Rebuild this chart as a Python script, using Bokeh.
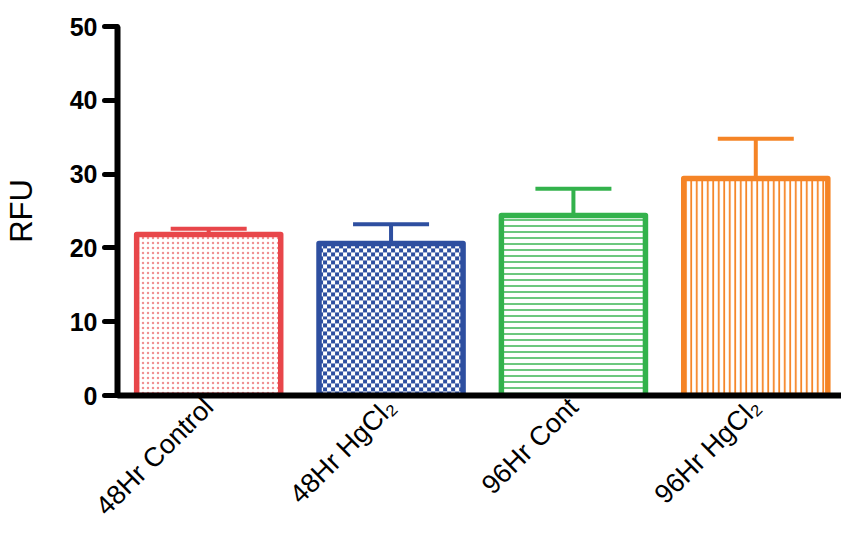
import numpy as np

from bokeh.embed import file_html
from bokeh.models import (
    ColumnDataSource,
    FixedTicker,
    Range1d,
    TeeHead,
    Whisker,
)
from bokeh.plotting import figure
from bokeh.resources import INLINE

# data
groups = ["48Hr Control", "48Hr HgCl\u2082", "96Hr Cont", "96Hr HgCl\u2082"]
rfu = [21.8, 20.6, 24.4, 29.4]
sem = [0.8, 2.6, 3.6, 5.4]

# looks
colors = ["#E8464A", "#2E4FA0", "#33B24C", "#F58426"]
patterns = ["dot", "checker", "-", "|"]
hatch_scales = [5, 8, 6, 5.5]
hatch_weights = [1.2, 1, 1.6, 1.8]
hatch_alphas = [0.6, 1.0, 0.9, 1.0]

W, H = 841, 534
BORDER_L, BORDER_T, BORDER_B = 117, 26, 137
X0, X1 = -0.5, 3.47
YMAX = 50
BAR_W = 0.79

xs = list(range(len(groups)))

# screen pixels per data unit, used to size the checker tile image
px_x = (W - BORDER_L) / (X1 - X0)
px_y = (H - BORDER_T - BORDER_B) / YMAX


def checker_img(w_units, h_units, color, cell=4):
    nx = int(round(w_units * px_x))
    ny = int(round(h_units * px_y))
    rgb = [int(color[k:k + 2], 16) for k in (1, 3, 5)]
    yy, xx = np.mgrid[0:ny, 0:nx]
    on = ((yy // cell + xx // cell) % 2) == 0
    img = np.zeros((ny, nx), dtype=np.uint32)
    view = img.view(dtype=np.uint8).reshape((ny, nx, 4))
    for c in range(3):
        view[..., c] = np.where(on, rgb[c], 255)
    view[..., 3] = 255
    return img


p = figure(
    width=W, height=H,
    x_range=Range1d(X0, X1), y_range=Range1d(0, YMAX),
    output_backend="svg", toolbar_location=None,
    min_border_left=BORDER_L, min_border_right=0,
    min_border_top=BORDER_T, min_border_bottom=BORDER_B,
)
p.outline_line_color = None
p.grid.grid_line_color = None

for i in xs:
    src = ColumnDataSource(dict(x=[i], top=[rfu[i]], upper=[rfu[i] + sem[i]]))
    p.add_layout(Whisker(
        base="x", lower="top", upper="upper", source=src,
        line_color=colors[i], line_width=4,
        upper_head=TeeHead(size=76, line_color=colors[i], line_width=4),
        lower_head=None, level="underlay",
    ))
    if patterns[i] == "checker":
        p.image_rgba(image=[checker_img(BAR_W, rfu[i], colors[i])],
                     x=i - BAR_W / 2, y=0, dw=BAR_W, dh=rfu[i])
        p.vbar(x="x", top="top", width=BAR_W, bottom=0, source=src,
               fill_color=None, line_color=colors[i], line_width=5.5,
               line_join="round")
    else:
        p.vbar(
            x="x", top="top", width=BAR_W, bottom=0, source=src,
            fill_color="white", line_color=colors[i], line_width=5.5,
            line_join="round",
            hatch_pattern=patterns[i], hatch_color=colors[i],
            hatch_scale=hatch_scales[i], hatch_weight=hatch_weights[i],
            hatch_alpha=hatch_alphas[i],
        )

ya = p.yaxis[0]
ya.ticker = FixedTicker(ticks=[0, 10, 20, 30, 40, 50])
ya.axis_line_width = 6
ya.major_tick_line_width = 5
ya.major_tick_line_cap = "round"
ya.major_tick_out = 13
ya.major_tick_in = 0
ya.minor_tick_line_color = None
ya.major_label_text_font = "Liberation Sans"
ya.major_label_text_font_style = "bold"
ya.major_label_text_font_size = "25px"
ya.major_label_text_color = "black"
ya.major_label_standoff = 7
ya.axis_label = "RFU"
ya.axis_label_text_font = "Liberation Sans"
ya.axis_label_text_font_style = "normal"
ya.axis_label_text_font_size = "31px"
ya.axis_label_text_color = "black"
ya.axis_label_standoff = 28

xa = p.xaxis[0]
xa.ticker = FixedTicker(ticks=xs)
xa.major_label_overrides = {i: g for i, g in zip(xs, groups)}
xa.axis_line_width = 6
xa.major_tick_line_color = None
xa.major_tick_out = 0
xa.major_tick_in = 0
xa.minor_tick_line_color = None
xa.major_label_orientation = 0.785
xa.major_label_text_font = "Liberation Sans"
xa.major_label_text_font_size = "27px"
xa.major_label_text_color = "black"
xa.major_label_standoff = 7

open("out.html", "w").write(file_html(p, INLINE))
